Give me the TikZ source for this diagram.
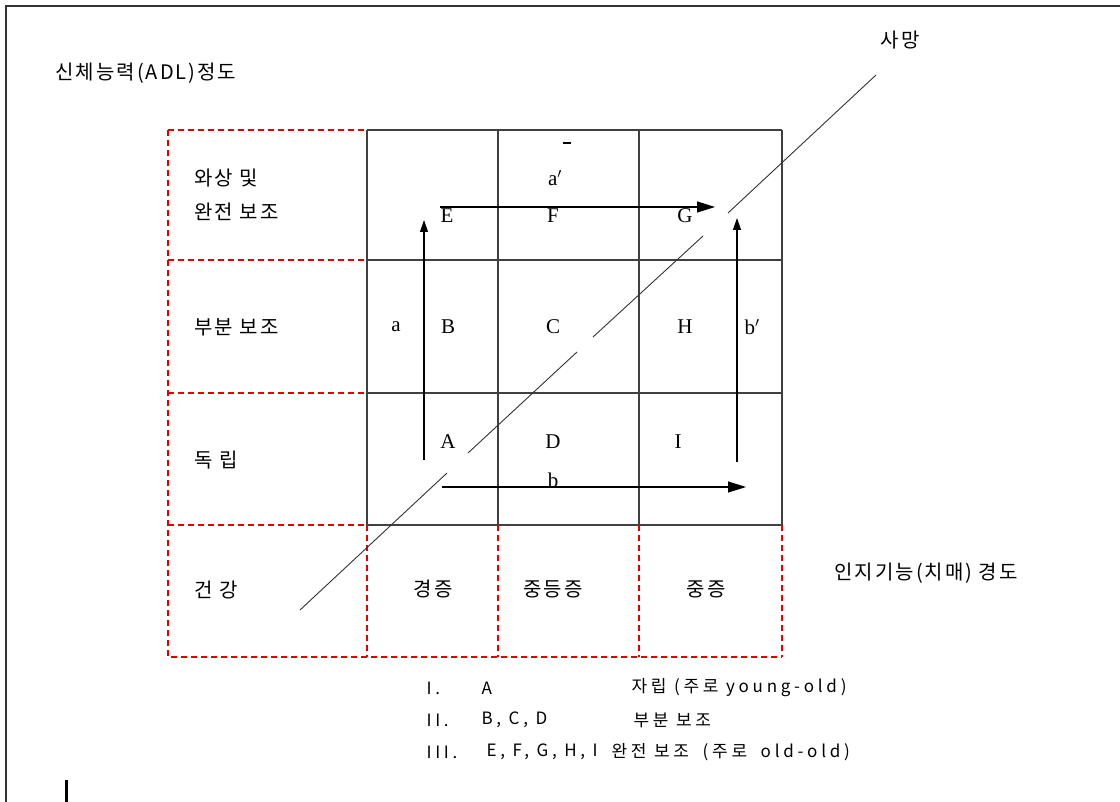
\documentclass[tikz,border=0pt]{standalone}
\usepackage{fontspec}
\setmainfont{Liberation Serif}
\newfontfamily\kor{Noto Sans CJK KR}
\usetikzlibrary{arrows.meta}
\tikzset{
  grid line/.style={draw=black!75, line width=1.8pt},
  red dash/.style={draw=red!90!black, line width=1.2pt, dash pattern=on 6pt off 4pt},
  death line/.style={draw=black!80, line width=0.9pt},
  cell/.style={font=\fontsize{21}{24}\selectfont},
  kr/.style={font=\kor\fontsize{20}{22}\selectfont\addfontfeatures{LetterSpace=10}, anchor=west},
  legend/.style={font=\kor\fontsize{17}{20}\selectfont\addfontfeatures{LetterSpace=22}, anchor=west},
  big arrow/.style={line width=1.2pt, -{Triangle[length=18pt,width=11pt]}},
  small arrow/.style={line width=1.2pt, -{Triangle[length=12pt,width=8pt]}}
}
\begin{document}
\begin{tikzpicture}[x=1pt,y=-1pt]
  \useasboundingbox (0,0) rectangle (1120,802);
  % frame edges
  \draw[black!80, line width=2pt] (6,802) -- (6,6) -- (1120,6);
  \draw[black, line width=3pt] (66,780) -- (66,802);

  % solid grid
  \foreach \x in {367,498,639,782}
    \draw[grid line] (\x,130) -- (\x,525);
  \foreach \y in {130,260,393,525}
    \draw[grid line] (367,\y) -- (782,\y);

  % dashed outer cells
  \foreach \y in {130,260,393,525}
    \draw[red dash] (168,\y) -- (367,\y);
  \draw[red dash] (168,130) -- (168,657) -- (782,657);
  \foreach \x in {367,498,639,782}
    \draw[red dash] (\x,525) -- (\x,657);

  % cell letters
  \node[cell] (E) at (447,216) {E};
  \node[cell] (F) at (553,216) {F};
  \node[cell] (G) at (685,216) {G};
  \node[cell] (B) at (448,327) {B};
  \node[cell] (C) at (553,327) {C};
  \node[cell] (H) at (685,327) {H};
  \node[cell] (A) at (448,442) {A};
  \node[cell] (D) at (553,442) {D};
  \node[cell] (I) at (678,442) {I};
  \node[cell] (la) at (396,327) {a};
  \node[cell] (lb) at (553,480) {b};
  \node[cell] (lap) at (555,178) {a$'$};
  \node[cell] (lbp) at (752,327) {b$'$};
  \draw[line width=1.2pt] (563,143) -- (571,143);

  % arrows
  \coordinate (a0) at (424,460);
  \coordinate (a1) at (424,220);
  \coordinate (ap0) at (440,207);
  \coordinate (ap1) at (715,207);
  \coordinate (b0) at (442,487);
  \coordinate (b1) at (746,487);
  \coordinate (bp0) at (737,462);
  \coordinate (bp1) at (737,218);
  \draw[small arrow] (a0) -- (a1);
  \draw[big arrow] (ap0) -- (ap1);
  \draw[big arrow] (b0) -- (b1);
  \draw[small arrow] (bp0) -- (bp1);

  % death line, broken round the letters
  \coordinate (d0) at (300,610);
  \coordinate (d1) at (447,473);
  \coordinate (d2) at (468,453);
  \coordinate (d3) at (577,352);
  \coordinate (d4) at (593,337);
  \coordinate (d5) at (703,236);
  \coordinate (d6) at (728,213);
  \coordinate (d7) at (876,75);
  \draw[death line] (d0) -- (d1) (d2) -- (d3) (d4) -- (d5) (d6) -- (d7);
  \node[kr, anchor=center] (death) at (900,40) {사망};

  % axis titles
  \node[kr] (adl) at (52,73) {신체능력(ADL)정도};
  \node[kr] (cog) at (831,573) {인지기능(치매) 경도};

  % row labels
  \node[kr] (r3a) at (191,178) {와상 및};
  \node[kr] (r3b) at (191,212) {완전 보조};
  \node[kr] (r2) at (191,327) {부분 보조};
  \node[kr] (r1) at (191,460) {독 립};
  \node[kr] (r0) at (191,590) {건 강};

  % column labels
  \node[kr, anchor=center] (c1) at (433,589) {경증};
  \node[kr, anchor=center] (c2) at (553,589) {중등증};
  \node[kr, anchor=center] (c3) at (706,589) {중증};

  % legend
  \node[legend] (g1) at (423,688) {I.};
  \node[legend] (g1s) at (478,688) {A};
  \node[legend] (g1t) at (628,688) {자립 (주로 young-old)};
  \node[legend] (g2) at (423,720) {II.};
  \node[legend] (g2s) at (478,720) {B, C, D};
  \node[legend] (g2t) at (630,720) {부분 보조};
  \node[legend] (g3) at (423,752) {III.};
  \node[legend] (g3s) at (483,752) {E, F, G, H, I};
  \node[legend] (g3t) at (608,752) {완전 보조\hspace{6pt} (주로\hspace{6pt} old-old)};
\end{tikzpicture}
\end{document}
